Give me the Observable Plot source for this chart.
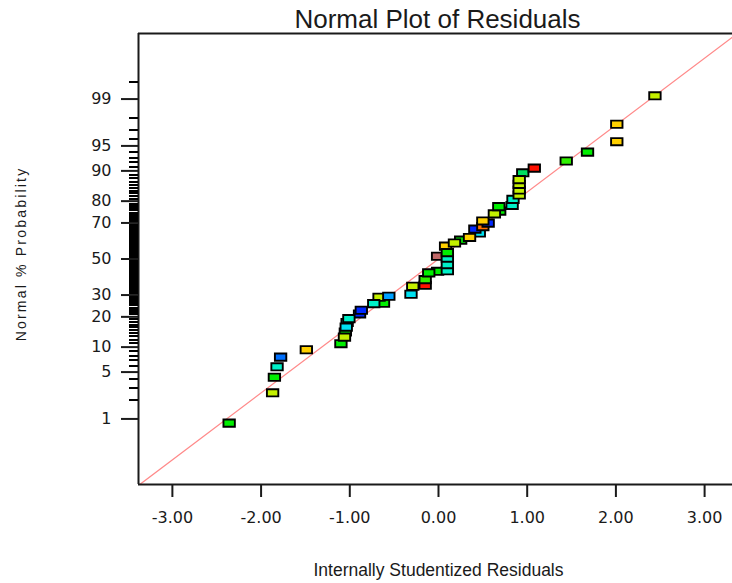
<!DOCTYPE html>
<html>
<head>
<meta charset="utf-8">
<script src="https://cdn.jsdelivr.net/npm/d3@7"></script>
<script src="https://cdn.jsdelivr.net/npm/@observablehq/plot@0.6"></script>
<style>
  html, body { margin: 0; padding: 0; background: #fff; overflow: hidden; }
</style>
</head>
<body>
<div id="chart"></div>
<script>
// ---- data ----
// internally studentized residuals (draw order: partly hidden points first)
const resid = [
  -1.05, -1.03, -0.89, -0.62, -0.67, -0.15, -0.01, -0.01, 0.08, 0.25, 0.46, 0.41, 0.50, 0.56, 0.69, 0.83, 0.95,
  -2.36, -1.87, -1.85, -1.82, -1.78, -1.49, -1.10, -1.06, -1.04, -1.01, -0.87, -0.73, -0.56, -0.31, -0.29,
  -0.15, -0.11, 0.10, 0.10, 0.10, 0.10, 0.18, 0.35, 0.50, 0.63, 0.68, 0.84,
  0.91, 0.91, 0.91, 0.91, 1.08, 1.44, 1.68, 2.01, 2.01, 2.44
];
// normal % probability of each point
const prob = [
  14.4, 17.8, 21.2, 26.0, 28.9, 35.1, 42.9, 51.6, 57.4, 60.8, 64.7, 66.8, 68.1, 69.9, 75.7, 78.2, 89.5,
  0.85, 2.58, 4.27, 5.84, 7.67, 9.34, 10.9, 12.8, 16.1, 19.3, 22.8, 25.8, 29.4, 30.4, 34.6,
  38.2, 42.0, 43.2, 46.7, 50.5, 53.7, 59.2, 62.3, 71.0, 74.4, 77.7, 80.7,
  82.4, 84.2, 86.1, 87.6, 90.7, 92.3, 94.0, 95.6, 97.5, 99.12
];
// colour group of each point
const group = [
  "green", "aqua", "blue", "green", "yellowgreen", "red", "green", "rosy", "gold", "green", "cyan", "blue", "orange", "blue", "green", "aqua", "spring",
  "green", "yellowgreen", "green", "aqua", "azure", "gold", "green", "yellowgreen", "cyan", "aqua", "blue", "aqua", "sky", "cyan", "yellowgreen",
  "lime", "green", "aqua", "aqua", "aqua", "green", "yellowgreen", "gold", "gold", "yellowgreen", "green", "aqua",
  "yellowgreen", "yellowgreen", "yellowgreen", "yellowgreen", "red", "lime", "green", "gold", "gold", "yellowgreen"
];
// reference line (residual, normal score)
const lineResid = [-3.45, 3.45];
const lineScore = [-3.36, 3.36];
// axis ticks
const xTicks = [-3, -2, -1, 0, 1, 2, 3];
const yMajor = [1, 5, 10, 20, 30, 50, 70, 80, 90, 95, 99];
const yMajorLabels = ["1", "5", "10", "20", "30", "50", "70", "80", "90", "95", "99"];

const palette = {
  green: "#00ee00", lime: "#30f000", spring: "#00e060", yellowgreen: "#c4f000",
  aqua: "#00f0c8", cyan: "#00e0f0", sky: "#00a0ff", azure: "#0070ff", blue: "#0028ff",
  gold: "#ffd000", orange: "#ff7000", red: "#ff1000", rosy: "#c06868"
};

// inverse normal CDF (Acklam)
function probit(p) {
  const a=[-3.969683028665376e+01,2.209460984245205e+02,-2.759285104469687e+02,1.383577518672690e+02,-3.066479806614716e+01,2.506628277459239e+00];
  const b=[-5.447609879822406e+01,1.615858368580409e+02,-1.556989798598866e+02,6.680131188771972e+01,-1.328068155288572e+01];
  const c=[-7.784894002430293e-03,-3.223964580411365e-01,-2.400758277161838e+00,-2.549671010336240e+00,4.374664141464968e+00,2.938163982698783e+00];
  const d=[7.784695709041462e-03,3.224671290700398e-01,2.445134137142996e+00,3.754408661907416e+00];
  const pl = 0.02425;
  if (p < pl) { const q = Math.sqrt(-2*Math.log(p)); return (((((c[0]*q+c[1])*q+c[2])*q+c[3])*q+c[4])*q+c[5])/((((d[0]*q+d[1])*q+d[2])*q+d[3])*q+1); }
  if (p > 1-pl) { const q = Math.sqrt(-2*Math.log(1-p)); return -(((((c[0]*q+c[1])*q+c[2])*q+c[3])*q+c[4])*q+c[5])/((((d[0]*q+d[1])*q+d[2])*q+d[3])*q+1); }
  const q = p-0.5, r = q*q;
  return (((((a[0]*r+a[1])*r+a[2])*r+a[3])*r+a[4])*r+a[5])*q/(((((b[0]*r+b[1])*r+b[2])*r+b[3])*r+b[4])*r+1);
}
const pz = p => probit(p / 100);

const points = resid.map((r, i) => ({r, p: prob[i], c: palette[group[i]]}));
const refLine = lineResid.map((r, i) => ({r, z: lineScore[i]}));
const minor = d3.range(2, 99).filter(p => !yMajor.includes(p)).concat([99.5]);

// geometry
const W = 732, H = 583, mL = 138, mT = 33, mB = 99;
const xDom = [-3.382, 3.3145], zDom = [-3.28, 3.28];
const pxX = (W - mL) / (xDom[1] - xDom[0]);
const pxZ = (H - mT - mB) / (zDom[1] - zDom[0]);
const ink = "#1a1a1a";

const box = { draw(ctx) { ctx.rect(-5.7, -3.6, 11.4, 7.2); } };

const chart = Plot.plot({
  width: W, height: H,
  marginLeft: mL, marginRight: 0, marginTop: mT, marginBottom: mB,
  x: {domain: xDom, axis: null},
  y: {domain: zDom, axis: null},
  color: {type: "identity"},
  style: {background: "white", fontFamily: "DejaVu Sans", fontSize: "16px", color: ink},
  marks: [
    // reference line
    Plot.line(refLine, {x: "r", y: "z", stroke: "#ff8a8a", strokeWidth: 1.3, clip: true}),
    // frame
    Plot.ruleY([zDom[1], zDom[0]], {stroke: ink, strokeWidth: 2}),
    Plot.ruleX([xDom[0]], {stroke: ink, strokeWidth: 2}),
    // y minor ticks
    Plot.ruleY(minor, {y: pz, x1: xDom[0] - 9 / pxX, x2: xDom[0], stroke: "#000", strokeWidth: 2, shapeRendering: "crispEdges"}),
    // y major ticks + labels
    Plot.ruleY(yMajor, {y: pz, x1: xDom[0] - 17 / pxX, x2: xDom[0], stroke: ink, strokeWidth: 2}),
    Plot.text(yMajor, {y: pz, frameAnchor: "left", dx: -27, textAnchor: "end", lineAnchor: "middle", text: (d, i) => yMajorLabels[i], fill: ink}),
    // x ticks + labels
    Plot.ruleX(xTicks, {x: d => d, y1: zDom[0], y2: zDom[0] - 13 / pxZ, stroke: ink, strokeWidth: 2}),
    Plot.text(xTicks, {x: d => d, frameAnchor: "bottom", dy: 33, lineAnchor: "middle", text: d => d.toFixed(2), fill: ink}),
    // points
    Plot.dot(points, {x: "r", y: d => pz(d.p), fill: "c", stroke: "#000", strokeWidth: 1.9, symbol: box, r: 5}),
    // titles
    Plot.text(["Normal Plot of Residuals"], {frameAnchor: "top", dx: 2, dy: -14, lineAnchor: "middle", textAnchor: "middle", fontFamily: "Liberation Sans", fontSize: 26, fill: ink}),
    Plot.text(["Internally Studentized Residuals"], {frameAnchor: "bottom", dx: 3, dy: 86, lineAnchor: "middle", textAnchor: "middle", fontFamily: "Liberation Sans", fontSize: 17.5, fill: ink}),
    Plot.text(["Normal % Probability"], {frameAnchor: "left", dx: -117, dy: -5, rotate: -90, lineAnchor: "middle", textAnchor: "middle", fontFamily: "Liberation Sans", fontSize: 14, fill: ink})
  ]
});
chart.querySelectorAll("text").forEach(t => {
  if (t.textContent === "Normal % Probability") t.style.letterSpacing = "2.2px";
});
document.getElementById("chart").appendChild(chart);
</script>
</body>
</html>
